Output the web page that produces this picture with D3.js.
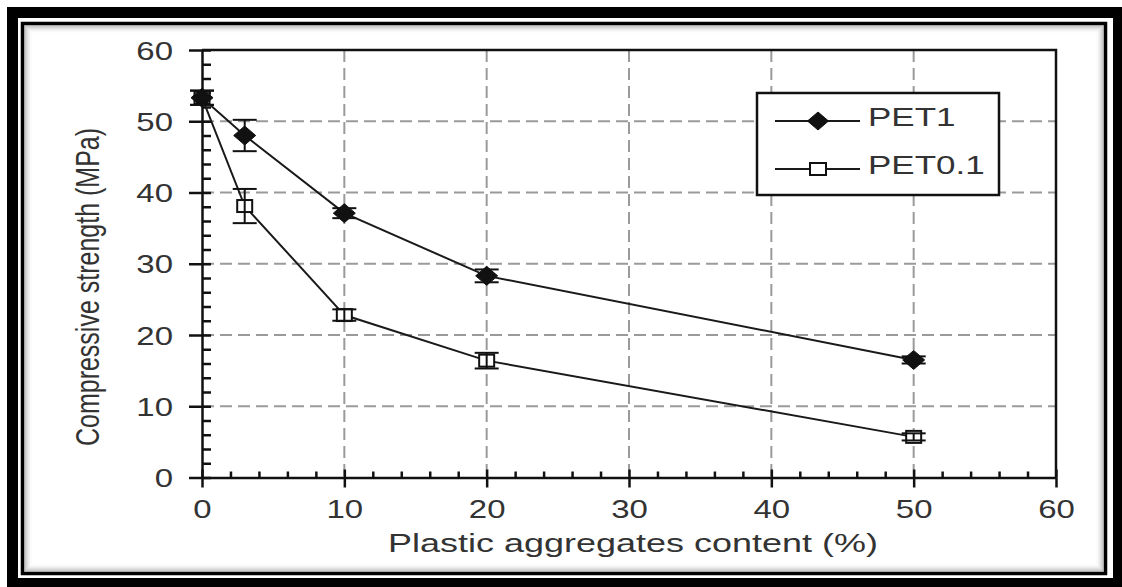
<!DOCTYPE html>
<html>
<head>
<meta charset="utf-8">
<script src="https://cdn.jsdelivr.net/npm/d3@7"></script>
<style>
  html, body { margin: 0; padding: 0; background: #fff; }
  svg { display: block; }
  text { font-family: "Liberation Sans", Arial, Helvetica, sans-serif; fill: #333; }
</style>
</head>
<body>
<svg id="chart" width="1122" height="587"></svg>
<script>
// Plastic aggregate content (%) and compressive strength (MPa)
const contents = [0, 3, 10, 20, 50];
const pet1 = [53.3, 48.0, 37.1, 28.3, 16.5];
const pet1Err = [1.0, 2.2, 0.7, 0.9, 0.5];
const pet01 = [53.3, 38.1, 22.8, 16.4, 5.7];
const pet01Err = [1.0, 2.4, 0.8, 1.1, 0.5];
const seriesNames = ["PET1", "PET0.1"];
const xTicks = [0, 10, 20, 30, 40, 50, 60];
const yTicks = [0, 10, 20, 30, 40, 50, 60];
const xLabel = "Plastic aggregates content (%)";
const yLabel = "Compressive strength (MPa)";

const svg = d3.select("#chart");
const W = 1122, H = 587;

// ---- decorative frame ----
svg.append("rect").attr("x", 7).attr("y", 7).attr("width", W - 7).attr("height", H - 7).attr("fill", "#000");
svg.append("rect").attr("x", 18).attr("y", 18).attr("width", 1095).attr("height", 560).attr("fill", "#fff");
svg.append("rect").attr("x", 22.5).attr("y", 23.5).attr("width", 1083).attr("height", 550)
  .attr("fill", "#fff").attr("stroke", "#000").attr("stroke-width", 3.5);
// soft inner shadow inside the frame line
for (let i = 1; i <= 8; i++) {
  svg.append("rect")
    .attr("x", 22.5 + 1.5 + i).attr("y", 23.5 + 1.5 + i)
    .attr("width", 1083 - 3 - 2 * i).attr("height", 550 - 3 - 2 * i)
    .attr("fill", "none").attr("stroke", "#000")
    .attr("stroke-opacity", 0.32 * Math.pow(1 - i / 9, 2))
    .attr("stroke-width", 1);
}

// ---- scales ----
const x = d3.scaleLinear().domain([0, 60]).range([202, 1056]);
const y = d3.scaleLinear().domain([0, 60]).range([477.5, 50]);

// ---- grid ----
const grid = svg.append("g").attr("stroke", "#9a9a9a").attr("stroke-width", 2).attr("stroke-dasharray", "12,6");
grid.selectAll(".gv").data(xTicks.filter(d => d > 0 && d < 60)).join("line")
  .attr("x1", d => x(d)).attr("x2", d => x(d)).attr("y1", y(60)).attr("y2", y(0));
grid.selectAll(".gh").data(yTicks.filter(d => d > 0 && d < 60)).join("line")
  .attr("x1", x(0)).attr("x2", x(60)).attr("y1", d => y(d)).attr("y2", d => y(d));

// ---- axes ----
const tickScale = 1.32;
function styleAxis(g) {
  g.selectAll("path").attr("stroke", "#111").attr("stroke-width", 2.5);
  g.selectAll("line").attr("stroke", "#111").attr("stroke-width", 2.5);
}

// y axis: major ticks outward with labels, all ticks inward
const yAxisOut = svg.append("g").attr("transform", `translate(${x(0)},0)`)
  .call(d3.axisLeft(y).tickValues(yTicks).tickSizeInner(13).tickSizeOuter(0));
styleAxis(yAxisOut);
yAxisOut.selectAll("text")
  .attr("x", 0).attr("dy", "0.36em")
  .attr("transform", `translate(-29,0) scale(${tickScale},1)`)
  .style("font-size", "25px").style("fill", "#333")
  .attr("font-family", null);
const yAxisIn = svg.append("g").attr("transform", `translate(${x(0)},0)`)
  .call(d3.axisRight(y).tickValues(d3.range(0, 61, 2)).tickSize(9).tickFormat(""));
styleAxis(yAxisIn);
yAxisIn.select("path").remove();

// x axis: major ticks outward with labels, all ticks inward
const xAxisOut = svg.append("g").attr("transform", `translate(0,${y(0)})`)
  .call(d3.axisBottom(x).tickValues(xTicks).tickSizeInner(10).tickSizeOuter(0));
styleAxis(xAxisOut);
xAxisOut.selectAll("text")
  .attr("y", 0).attr("dy", 0)
  .attr("transform", `translate(0,40) scale(${tickScale},1)`)
  .style("font-size", "25px").style("fill", "#333");
const xAxisIn = svg.append("g").attr("transform", `translate(0,${y(0)})`)
  .call(d3.axisTop(x).tickValues(d3.range(0, 61, 2)).tickSize(6).tickFormat(""));
styleAxis(xAxisIn);
xAxisIn.select("path").remove();
xAxisIn.selectAll(".tick").filter(d => d % 10 === 0).select("line").attr("y2", -8);

// top and right frame of the plot
svg.append("path")
  .attr("d", `M${x(0)},${y(60)}H${x(60)}V${y(0)}`)
  .attr("fill", "none").attr("stroke", "#111").attr("stroke-width", 2.5);

// ---- axis titles ----
svg.append("text")
  .attr("transform", `translate(633,552) scale(1.44,1)`)
  .attr("text-anchor", "middle").style("font-size", "25px")
  .text(xLabel);
svg.append("text")
  .attr("transform", `translate(99,287) scale(1.3,1) rotate(-90)`)
  .attr("text-anchor", "middle").style("font-size", "25px")
  .text(yLabel);

// ---- series ----
const diamond = (cx, cy, rx, ry) => `M${cx},${cy - ry}L${cx + rx},${cy}L${cx},${cy + ry}L${cx - rx},${cy}Z`;
const line = d3.line().x(d => x(d[0])).y(d => y(d[1]));

const s1 = contents.map((c, i) => [c, pet1[i], pet1Err[i]]);
const s2 = contents.map((c, i) => [c, pet01[i], pet01Err[i]]);

const plot = svg.append("g");
[s2, s1].forEach(s => {
  plot.append("path").datum(s).attr("d", line)
    .attr("fill", "none").attr("stroke", "#1a1a1a").attr("stroke-width", 2);
});

// PET0.1 markers: open squares
plot.selectAll(".sq").data(s2).join("rect")
  .attr("x", d => x(d[0]) - 7.5).attr("y", d => y(d[1]) - 6)
  .attr("width", 15).attr("height", 12)
  .attr("fill", "#fff").attr("stroke", "#111").attr("stroke-width", 2);
// PET1 markers: filled diamonds
plot.selectAll(".dm").data(s1).join("path")
  .attr("d", d => diamond(x(d[0]), y(d[1]), 11, 9.5))
  .attr("fill", "#111").attr("stroke", "#111").attr("stroke-width", 1);

// error bars
function errorBars(data) {
  const g = plot.append("g").attr("stroke", "#111").attr("stroke-width", 2);
  data.forEach(d => {
    const cx = x(d[0]), top = y(d[1] + d[2]), bot = y(d[1] - d[2]);
    g.append("line").attr("x1", cx).attr("x2", cx).attr("y1", top).attr("y2", bot);
    g.append("line").attr("x1", cx - 12).attr("x2", cx + 12).attr("y1", top).attr("y2", top);
    g.append("line").attr("x1", cx - 12).attr("x2", cx + 12).attr("y1", bot).attr("y2", bot);
  });
}
errorBars(s1);
errorBars(s2);

// ---- legend ----
const lg = svg.append("g");
lg.append("rect").attr("x", 757).attr("y", 93).attr("width", 242).attr("height", 102)
  .attr("fill", "#fff").attr("stroke", "#111").attr("stroke-width", 2.5);
const legendRows = [121, 169];
seriesNames.forEach((name, i) => {
  const ly = legendRows[i];
  lg.append("line").attr("x1", 775).attr("x2", 860).attr("y1", ly).attr("y2", ly)
    .attr("stroke", "#1a1a1a").attr("stroke-width", 2);
  if (i === 0) {
    lg.append("path").attr("d", diamond(818, ly, 10.5, 9)).attr("fill", "#111").attr("stroke", "#111");
  } else {
    lg.append("rect").attr("x", 810).attr("y", ly - 6).attr("width", 16).attr("height", 12)
      .attr("fill", "#fff").attr("stroke", "#111").attr("stroke-width", 2);
  }
  lg.append("text").attr("transform", `translate(868,${ly + 5}) scale(1.4,1)`)
    .attr("dy", 0).style("font-size", "25px")
    .attr("dominant-baseline", "auto")
    .text(name);
});
</script>
</body>
</html>
